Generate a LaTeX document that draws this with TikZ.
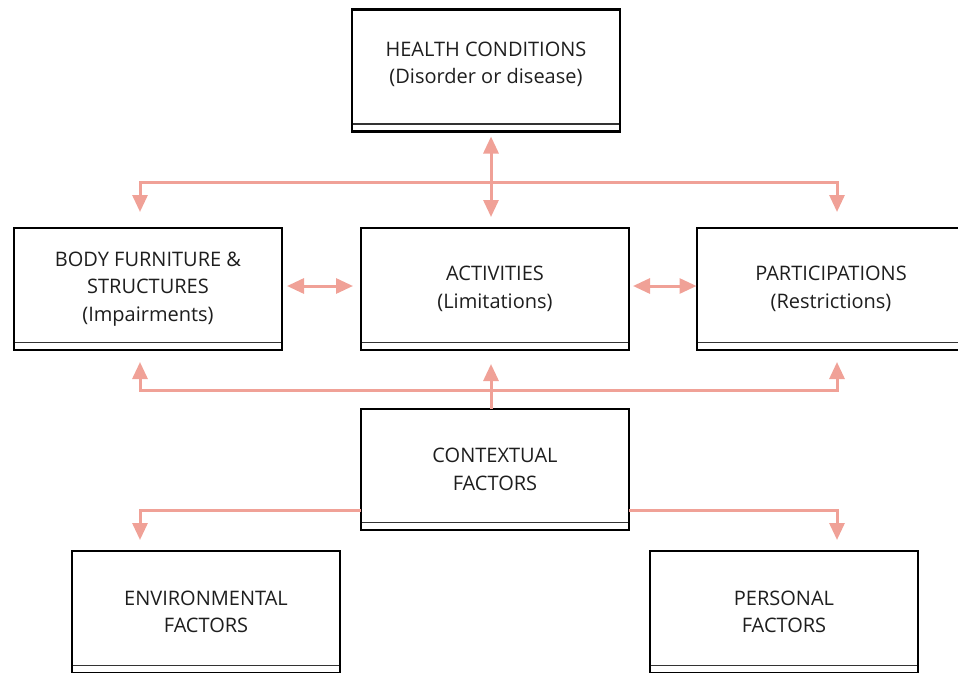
\documentclass[tikz,border=0pt]{standalone}
\usepackage{fontspec}
\setmainfont{Open Sans}
\usetikzlibrary{arrows.meta,calc}
\definecolor{salmon}{HTML}{F0A197}
\definecolor{txt}{HTML}{1E1E1E}
\tikzset{
  boxtext/.style={align=center, text=txt, font=\fontsize{20}{27.5}\selectfont},
  box/.style={draw=black, line width=2.7pt, minimum width=268pt, minimum height=122pt,
    inner sep=0pt, outer sep=0pt, boxtext,
    path picture={\draw[line width=1.4pt,black!80] ([yshift=7.5pt]path picture bounding box.south west) -- ([yshift=7.5pt]path picture bounding box.south east);}},
  link/.style={draw=salmon, line width=3pt},
  tip/.tip={Triangle[width=15pt,length=17pt]}
}
\begin{document}
\begin{tikzpicture}[x=1pt,y=-1pt]
\useasboundingbox (0,0) rectangle (958,672);
\node[box, label={[boxtext, yshift=6pt]center:HEALTH CONDITIONS\\(Disorder or disease)}] (health) at (486,70.5) {};
\node[box] (body) at (148,289) {BODY FURNITURE \&\\STRUCTURES\\(Impairments)};
\node[box] (act) at (495,289) {ACTIVITIES\\(Limitations)};
\node[box] (part) at (831,289) {PARTICIPATIONS\\(Restrictions)};
\node[box, minimum height=121pt] (ctx) at (495,469.5) {CONTEXTUAL\\FACTORS};
\node[box] (env) at (206,612) {ENVIRONMENTAL\\FACTORS};
\node[box] (pers) at (784,612) {PERSONAL\\FACTORS};
% columns
\coordinate (cL) at (140,0);
\coordinate (cM) at (491,0);
\coordinate (cR) at (837,0);
\coordinate (rowA) at (0,286);
% top distribution
\coordinate (tl) at (140,212);
\coordinate (tr) at (837,212);
\draw[link,tip-tip] (tl) |- (837,182) -- (tr);
\draw[link,tip-tip,shorten <=5pt] (health.south -| cM) -- ($(act.north -| cM)+(0,-11)$);
% side double arrows
\draw[link,tip-tip,shorten <=5pt,shorten >=8pt] (body.east |- rowA) -- (act.west |- rowA);
\draw[link,tip-tip,shorten <=4pt,shorten >=0.5pt] (act.east |- rowA) -- (part.west |- rowA);
% lower distribution
\coordinate (bl) at (140,362);
\coordinate (br) at (837,362);
\draw[link,tip-tip] (bl) |- (837,390) -- (br);
\draw[link,-tip] (ctx.north -| cM) -- (491,364);
% contextual factors
\draw[link,-tip] (ctx.west |- 0,510) -| ($(env.north -| cL)+(0,-11)$);
\draw[link,-tip] (ctx.east |- 0,510) -| ($(pers.north -| cR)+(0,-11)$);
\end{tikzpicture}
\end{document}
